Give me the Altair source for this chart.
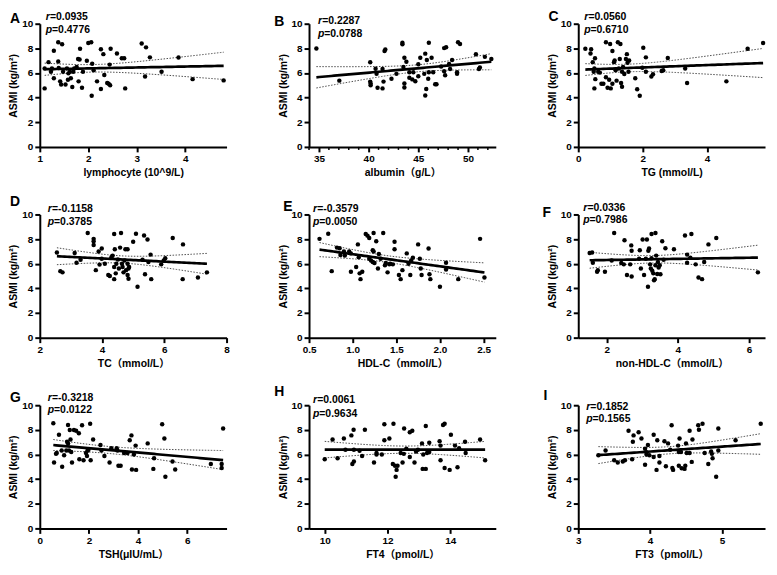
import altair as alt
import numpy as np
import pandas as pd

# ---------------- data ----------------
A_x = [1.10,1.10,1.18,1.23,1.25,1.38,1.46,1.29,1.38,1.39,1.29,1.42,1.44,1.48,1.53,1.56,1.58,1.59,1.62,1.64,1.67,1.69,1.71,1.76,1.79,1.82,1.83,1.80,1.87,1.89,1.97,2.00,2.06,2.07,2.08,2.11,2.18,2.26,2.26,2.31,2.33,2.39,2.42,2.44,2.46,2.45,2.59,2.69,2.74,2.76,3.10,3.19,3.17,3.27,3.51,3.86,4.15,4.79]
A_y = [4.75,6.36,6.88,6.10,6.36,8.50,8.34,7.80,6.94,6.40,5.58,5.32,5.06,6.10,5.06,6.36,5.45,5.97,6.10,5.58,4.86,6.10,6.36,6.49,7.14,7.10,7.97,5.32,4.80,6.10,7.00,8.44,8.49,4.16,6.75,6.23,5.32,7.92,4.70,7.53,5.84,5.19,5.12,6.68,7.97,5.00,7.58,7.19,7.19,4.75,8.39,8.08,5.71,7.27,6.10,7.25,5.50,5.40]

B_x = [34.74,37.05,40.16,40.16,40.20,40.20,40.70,40.80,40.90,41.40,41.50,41.40,41.60,41.68,42.30,42.80,43.40,43.40,43.50,43.60,43.60,43.60,43.80,44.10,44.10,44.40,44.50,44.70,45.00,45.00,45.20,45.60,45.70,45.70,45.80,45.86,46.00,46.06,46.06,46.34,46.50,46.70,46.83,47.30,47.60,47.60,47.70,47.80,48.10,48.20,48.40,48.90,48.90,49.00,49.20,50.80,51.10,51.20,51.70,52.35]
B_y = [7.99,5.38,6.87,5.30,5.14,5.00,6.34,5.93,4.80,6.32,5.30,4.75,7.78,7.91,5.53,5.93,8.46,8.33,6.48,5.14,4.83,7.23,6.92,6.06,5.61,5.48,6.06,5.33,6.71,5.74,7.23,5.93,7.57,4.18,4.70,7.05,5.53,8.46,6.06,7.23,6.06,5.09,5.09,6.53,6.14,8.02,5.82,8.09,6.74,6.32,7.05,6.06,5.93,8.49,8.36,7.52,6.32,6.45,7.31,7.13]

C_x = [0.22,0.38,0.40,0.45,0.48,0.50,0.52,0.50,0.53,0.62,0.67,0.72,0.78,0.86,0.86,0.91,0.96,0.99,1.01,1.06,1.06,1.11,1.13,1.19,1.23,1.26,1.29,1.31,1.33,1.36,1.36,1.39,1.43,1.48,1.51,1.53,1.56,1.58,1.77,1.83,1.91,1.99,2.02,2.10,2.10,2.27,2.32,2.59,2.64,2.78,3.32,3.38,4.60,5.26,5.74,1.16]
C_y = [7.97,7.58,7.92,6.88,6.10,6.36,7.19,4.75,5.50,6.10,6.03,5.12,5.12,5.66,8.49,4.80,5.45,8.36,4.75,5.12,7.79,6.88,7.01,5.38,8.49,6.36,7.14,8.36,5.19,6.10,4.88,6.49,5.92,7.14,7.53,6.83,6.10,7.01,5.58,4.68,4.16,6.42,8.05,7.27,6.10,5.71,5.90,6.16,6.23,7.22,6.36,5.19,5.32,7.97,8.44,6.23]

D_x = [2.55,2.66,2.73,3.12,3.18,3.31,3.54,3.73,3.73,3.73,3.80,3.89,3.92,3.99,3.99,4.09,4.20,4.25,4.30,4.34,4.39,4.39,4.39,4.41,4.44,4.46,4.51,4.54,4.58,4.61,4.64,4.66,4.69,4.72,4.75,4.77,4.82,4.82,4.82,4.85,4.85,4.87,5.00,5.09,5.14,5.30,5.35,5.38,5.46,5.49,5.56,5.58,5.90,5.98,6.03,6.27,6.59,6.60,7.08,7.37]
D_y = [6.92,5.40,5.30,6.87,6.08,6.32,8.49,8.02,7.83,7.52,5.48,7.00,5.93,7.23,6.40,6.00,5.09,5.01,6.53,6.66,8.41,5.74,4.75,7.18,5.22,6.00,6.35,5.61,7.31,8.49,6.00,5.74,5.30,6.27,7.18,5.48,7.18,5.09,6.00,5.61,4.78,5.74,7.78,8.43,4.13,6.32,8.30,5.14,7.96,6.14,6.74,4.75,5.95,6.27,6.45,8.09,4.75,7.57,4.88,5.30]

E_x = [0.62,0.72,0.76,0.82,0.85,0.86,0.90,0.91,0.96,0.98,0.98,1.04,1.06,1.07,1.08,1.09,1.11,1.15,1.17,1.19,1.19,1.21,1.23,1.23,1.24,1.24,1.25,1.27,1.29,1.30,1.32,1.35,1.37,1.38,1.40,1.42,1.43,1.46,1.48,1.48,1.53,1.55,1.57,1.62,1.64,1.66,1.67,1.69,1.75,1.77,1.78,1.79,1.87,1.88,1.89,2.00,2.07,2.07,2.21,2.46,2.51]
E_y = [8.02,8.43,5.40,7.31,7.26,6.71,7.00,6.66,7.00,6.84,5.35,5.74,7.57,6.53,5.22,4.75,5.35,8.41,8.28,8.09,6.40,6.27,7.10,6.14,8.49,7.00,6.06,7.83,5.61,6.79,6.40,8.49,5.87,6.06,5.30,5.95,6.00,5.95,7.78,7.18,5.09,4.75,5.48,6.84,6.00,5.09,6.27,6.48,7.57,6.40,5.61,5.09,7.23,5.14,4.75,4.13,6.08,5.53,4.75,8.02,4.88]

F_x = [1.52,1.59,1.61,1.73,1.75,1.95,2.14,2.21,2.41,2.48,2.50,2.57,2.66,2.69,2.70,2.70,2.91,2.93,2.96,3.01,3.05,3.10,3.13,3.16,3.17,3.19,3.22,3.24,3.26,3.26,3.28,3.31,3.33,3.35,3.37,3.37,3.39,3.42,3.44,3.46,3.49,3.51,3.56,3.60,3.65,3.89,4.20,4.26,4.26,4.38,4.35,4.50,4.58,4.68,4.74,4.86,5.08,6.25]
F_y = [6.87,6.92,6.08,5.35,5.48,5.35,6.27,8.49,6.06,5.95,7.91,5.09,5.95,7.49,7.05,4.96,6.40,7.10,5.61,7.96,5.09,6.40,7.96,4.13,7.05,7.23,5.95,5.61,6.45,8.41,5.43,5.22,4.65,4.75,8.49,5.87,6.66,5.17,6.14,5.69,5.87,5.14,7.83,6.32,7.26,7.18,8.30,6.74,6.08,8.41,6.48,5.95,4.88,4.75,6.14,7.57,8.09,5.30]

G_x = [0.55,0.58,0.66,0.69,0.78,0.89,0.91,0.99,1.08,1.11,1.15,1.15,1.19,1.22,1.25,1.28,1.31,1.39,1.48,1.59,1.61,1.72,1.78,1.88,1.92,1.94,1.98,2.05,2.07,2.17,2.47,2.51,2.63,2.84,2.91,3.13,3.16,3.20,3.29,3.43,3.57,3.66,3.73,3.75,3.83,3.90,3.92,4.39,4.62,4.65,4.98,5.07,5.11,5.40,5.51,6.96,7.40,7.40,7.46]
G_y = [8.53,5.35,6.05,6.12,7.60,6.33,5.01,5.94,6.33,7.03,8.40,6.90,6.33,7.98,7.21,6.20,5.35,7.98,7.93,7.73,5.61,8.37,5.53,6.12,5.87,6.30,6.38,8.50,5.53,7.21,6.77,6.33,5.87,5.35,6.51,6.51,6.33,5.09,5.09,6.12,6.12,7.16,7.55,4.78,6.00,6.72,4.75,6.90,4.83,5.69,8.45,7.29,4.19,5.43,4.78,5.22,5.22,4.91,8.11]

H_x = [10.00,10.25,10.41,10.61,10.66,10.85,10.88,10.92,10.93,10.93,11.11,11.19,11.28,11.57,11.65,11.65,11.82,11.90,11.90,12.06,12.17,12.19,12.24,12.26,12.29,12.32,12.42,12.48,12.52,12.53,12.60,12.71,12.71,12.79,12.86,12.91,12.97,13.10,13.12,13.14,13.22,13.22,13.26,13.33,13.33,13.66,13.69,13.69,13.77,13.82,13.82,13.98,14.02,14.23,14.15,14.28,14.47,14.49,14.95,15.11]
H_y = [5.61,7.21,5.69,7.29,6.38,7.55,5.22,8.01,5.43,6.38,6.31,5.87,8.01,5.35,6.00,6.12,6.00,8.45,7.16,7.29,5.22,8.50,5.09,4.19,4.75,5.09,6.12,5.35,6.05,8.11,6.46,7.80,5.79,7.93,5.35,6.25,6.38,6.90,4.83,6.00,8.32,4.83,6.12,6.95,6.20,7.08,6.72,5.53,8.40,8.50,4.91,4.75,7.60,4.96,6.72,6.51,7.03,6.12,7.21,5.53]

I_x = [3.28,3.38,3.50,3.55,3.62,3.65,3.70,3.75,3.76,3.77,3.84,3.88,3.93,3.93,3.95,3.95,3.97,3.99,4.05,4.05,4.09,4.10,4.13,4.13,4.20,4.22,4.25,4.28,4.30,4.31,4.32,4.39,4.40,4.40,4.41,4.43,4.44,4.48,4.49,4.50,4.51,4.55,4.55,4.58,4.59,4.67,4.68,4.73,4.76,4.81,4.85,4.86,4.87,4.92,4.95,4.95,5.19,5.54]
I_y = [5.94,6.33,5.53,5.35,5.43,5.53,7.93,5.61,7.03,7.55,7.80,7.29,6.46,5.17,6.18,6.00,6.77,5.94,7.60,5.79,4.75,7.16,5.87,5.35,7.08,5.04,6.90,6.38,8.37,4.91,4.75,6.72,6.20,5.09,7.29,6.20,4.88,4.83,5.09,6.90,6.12,7.93,6.12,5.40,7.21,8.37,8.01,8.50,6.12,5.22,6.25,6.05,5.69,4.19,8.11,6.33,7.16,8.50]

letters = ["A", "B", "C", "D", "E", "F", "G", "H", "I"]
x_titles = ["lymphocyte (10^9/L)", "albumin\uff08g/L\uff09", "TG (mmol/L)",
            "TC\uff08mmol/L\uff09", "HDL-C\uff08mmol/L\uff09", "non-HDL-C\uff08mmol/L\uff09",
            "TSH(\u03bcIU/mL\uff09", "FT4\uff08pmol/L\uff09", "FT3\uff08pmol/L\uff09"]
r_texts = ["=0.0935", "=0.2287", "=0.0560", "=-0.1158", "=-0.3579", "=0.0336", "=-0.3218", "=0.0061", "=0.1852"]
p_texts = ["=0.4776", "=0.0788", "=0.6710", "=0.3785", "=0.0050", "=0.7986", "=0.0122", "=0.9634", "=0.1565"]
x_domains = [[1, 4.85], [34, 52.8], [0, 5.8], [2, 8], [0.5, 2.64], [1.2, 6.45], [0, 7.6], [9.5, 15.45], [3, 5.6]]
x_ticks = [[1, 2, 3, 4], [35, 40, 45, 50], [0, 2, 4], [2, 4, 6, 8], [0.5, 1.0, 1.5, 2.0, 2.5],
           [2, 4, 6], [0, 2, 4, 6], [10, 12, 14], [3, 4, 5]]
x_formats = ["d", "d", "d", "d", ".1f", "d", "d", "d", "d"]
B_minor_ticks = [34, 36, 37, 38, 39, 41, 42, 43, 44, 46, 47, 48, 49, 51, 52]
y_ticks = [0, 2, 4, 6, 8, 10]

xs_all = [A_x, B_x, C_x, D_x, E_x, F_x, G_x, H_x, I_x]
ys_all = [A_y, B_y, C_y, D_y, E_y, F_y, G_y, H_y, I_y]

# ---------------- layout / style ----------------
W, H = 188, 124
FONT = "Liberation Sans, Arial, Noto Sans CJK SC"
# per panel: letter (dx, dy), r/p text (dx, r_dy, p_dy)
letter_pos = [(-30, -5), (-35, -1.5), (-30, -7), (-30, -13), (-26, -7), (-36, -1.5), (-30, -7), (-35, -13), (-35, -9)]
rp_pos = [(6, -7, 6), (9, -3, 10), (6, -6.5, 6.5), (8, -5, 7.5), (4, -5, 7.5), (5, -6, 6), (8, -7, 5), (4, -5, 9), (8, 2, 14)]


def fit_frames(xv, yv):
    x = np.asarray(xv, dtype=float)
    y = np.asarray(yv, dtype=float)
    n = len(x)
    b1, b0 = np.polyfit(x, y, 1)
    resid = y - (b0 + b1 * x)
    s = np.sqrt((resid ** 2).sum() / (n - 2))
    sxx = ((x - x.mean()) ** 2).sum()
    grid = np.linspace(x.min(), x.max(), 60)
    fit = b0 + b1 * grid
    se = s * np.sqrt(1.0 / n + (grid - x.mean()) ** 2 / sxx)
    t = 2.0
    return (pd.DataFrame({"x": grid, "y": fit}),
            pd.DataFrame({"x": grid, "y": fit - t * se}),
            pd.DataFrame({"x": grid, "y": fit + t * se}))


def text_layer(txt, x, y, size, italic=False):
    return alt.Chart(pd.DataFrame({"t": [txt]})).mark_text(
        align="left", baseline="middle", fontSize=size, fontWeight="bold",
        fontStyle="italic" if italic else "normal", color="black"
    ).encode(text="t:N", x=alt.value(x), y=alt.value(y))


panels = []
for i in range(9):
    df = pd.DataFrame({"x": xs_all[i], "y": ys_all[i]})
    fit_df, lo_df, hi_df = fit_frames(xs_all[i], ys_all[i])
    xenc = alt.X("x:Q",
                 scale=alt.Scale(domain=x_domains[i], nice=False, zero=False),
                 axis=alt.Axis(values=x_ticks[i], format=x_formats[i], title=x_titles[i],
                               labelFlush=False, titlePadding=4))
    yenc = alt.Y("y:Q",
                 scale=alt.Scale(domain=[0, 10], nice=False),
                 axis=alt.Axis(values=y_ticks, title="ASMI (kg/m\u00b2)", titlePadding=3))
    layers = []
    for band in (lo_df, hi_df):
        layers.append(alt.Chart(band).mark_line(color="#4d4d4d", strokeWidth=1, strokeDash=[1.5, 1.5])
                      .encode(x=xenc, y=yenc))
    layers.append(alt.Chart(fit_df).mark_line(color="black", strokeWidth=2.7).encode(x=xenc, y=yenc))
    layers.append(alt.Chart(df).mark_circle(size=20, color="black", opacity=1).encode(x=xenc, y=yenc))
    if i == 1:
        layers.append(alt.Chart(pd.DataFrame({"x": B_minor_ticks})).mark_rule(color="black", strokeWidth=1.5)
                      .encode(x=xenc, y=alt.value(H), y2=alt.value(H + 3)))
    lx, ly = letter_pos[i]
    layers.append(text_layer(letters[i], lx, ly, 14))
    rx, ry, py = rp_pos[i]
    layers.append(text_layer("r", rx, ry, 10.5, italic=True))
    layers.append(text_layer(r_texts[i], rx + 4.2, ry, 10.5))
    layers.append(text_layer("p", rx, py, 10.5, italic=True))
    layers.append(text_layer(p_texts[i], rx + 6.3, py, 10.5))
    panels.append(alt.layer(*layers).properties(width=W, height=H))

chart = alt.concat(*panels, columns=3, spacing={"row": 68, "column": 83}, bounds="flush").properties(
    padding=0
).configure(font=FONT).configure_view(stroke=None).configure_axis(
    grid=False, domainColor="black", domainWidth=2, tickColor="black", tickWidth=2, tickSize=5,
    labelColor="black", labelFontSize=10, labelFontWeight="bold", labelPadding=2,
    titleColor="black", titleFontSize=10.5, titleFontWeight="bold"
)

chart.save("out.html", embed_options={"renderer": "svg", "actions": False})
